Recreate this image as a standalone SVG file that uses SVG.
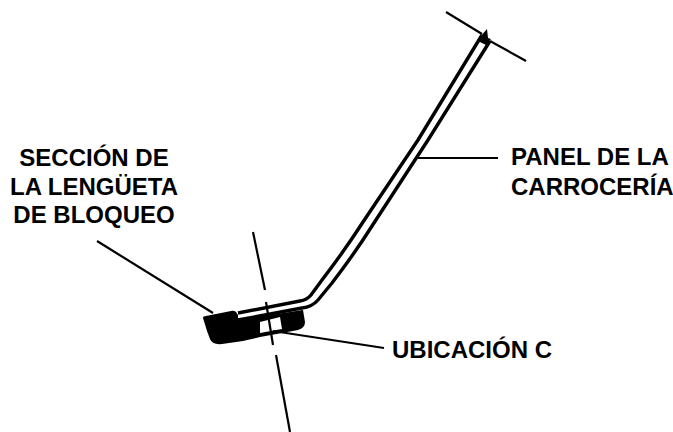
<svg xmlns="http://www.w3.org/2000/svg" width="673" height="432" viewBox="0 0 673 432">
<style>
.l{fill:none;stroke:#000;stroke-width:2.2}
.p{fill:none;stroke:#000;stroke-width:3.4;stroke-linejoin:round}
text{font-family:"Liberation Sans",Arial,sans-serif;font-size:24px;font-weight:bold;fill:#000}
</style>
<rect width="673" height="432" fill="#fff"/>
<g id="part">
<path d="M203 318Q203 316 206 316L231 311Q234 310 236 312L238 315L238 320L303 310L305 322Q305 328 298 330L282 333L260 337L243 341L222 344Q212 345 210 339L207 331Z" fill="#000"/>
<path d="M260 322L280 317L282 329L260 333Z" fill="#fff"/>
<path class="p" d="M238 313L300 301Q307 300 311 295L322 280Q345 250 363 222L418 140L482 35"/>
<path class="p" d="M238 320L302 308Q312 307 318 300L332 283Q355 253 372 226L428 140L490 41"/>
<path d="M480 37L487 29L488 38L491 39L486 45L480 42Z" fill="#000"/>
</g>
<g id="connectors">
<path class="l" d="M446 12L482 34"/>
<path class="l" d="M490 41L526 61"/>
<path class="l" d="M253 232L265 290"/>
<path class="l" d="M266 302L273 345"/>
<path class="l" d="M276 355L290 432"/>
<path class="l" d="M97 241L213 313"/>
<path class="l" d="M418 158L498 158"/>
<path class="l" d="M273 331L384 348"/>
</g>
<g id="label-seccion">
<text x="94" y="166" text-anchor="middle">SECCIÓN DE</text>
<text x="94" y="195" text-anchor="middle">LA LENGÜETA</text>
<text x="94" y="223" text-anchor="middle">DE BLOQUEO</text>
</g>
<g id="label-panel">
<text x="511" y="165">PANEL DE LA</text>
<text x="511" y="195">CARROCERÍA</text>
</g>
<g id="label-ubicacion">
<text x="392" y="358">UBICACIÓN C</text>
</g>
</svg>
